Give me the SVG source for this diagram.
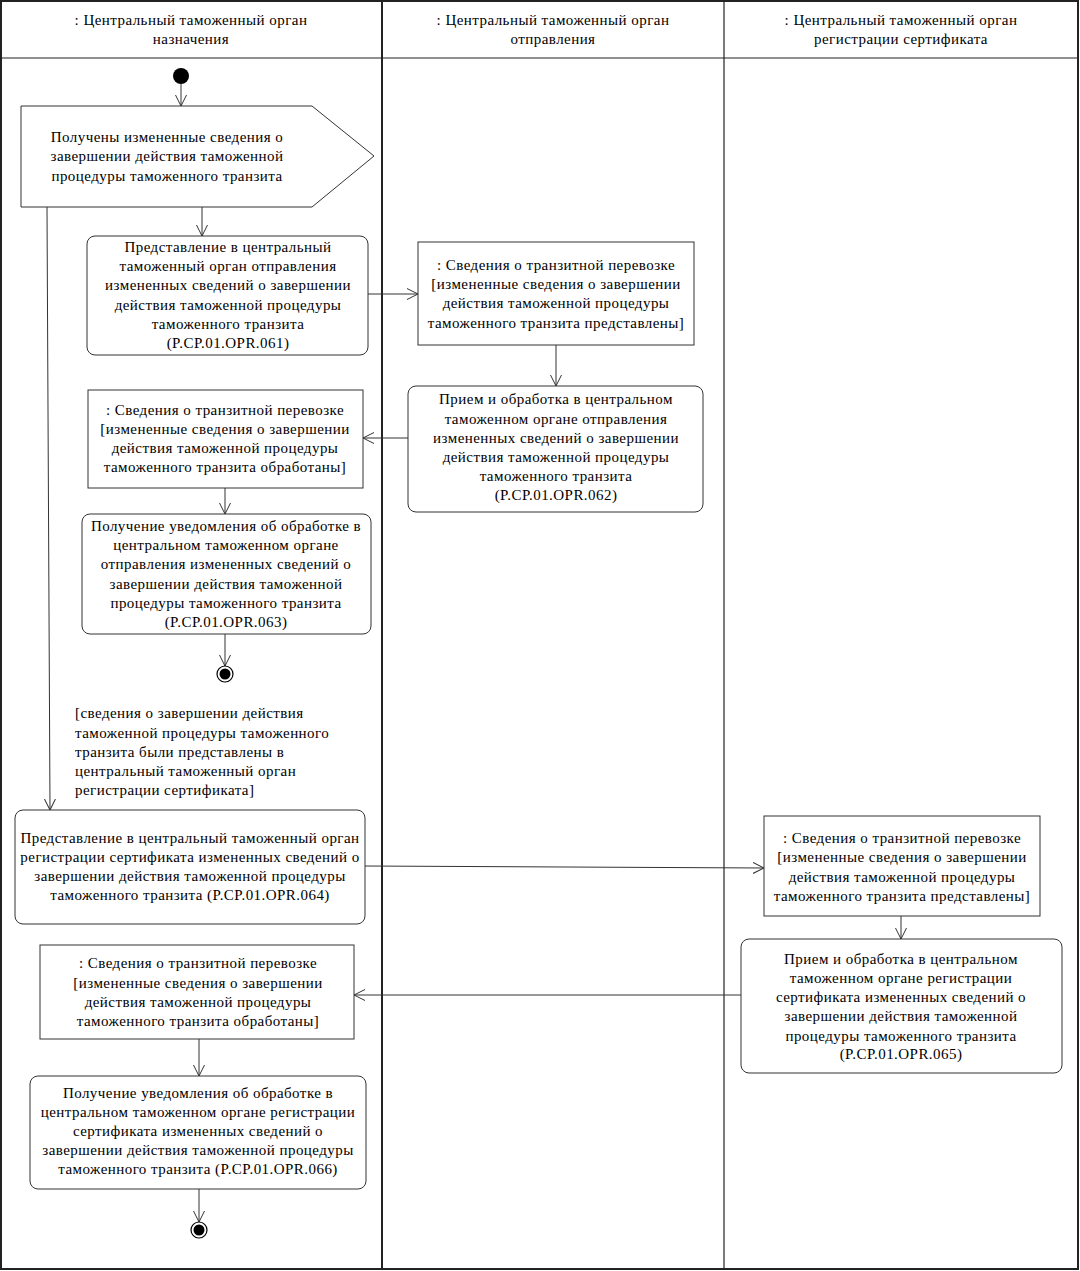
<svg xmlns="http://www.w3.org/2000/svg" width="1080" height="1271" viewBox="0 0 1080 1271">
<style>
text{font-family:"Liberation Serif","Times New Roman",serif;font-size:15px;letter-spacing:0.45px;fill:#000;text-anchor:middle}
.l{text-anchor:start}
.lane{fill:none;stroke:#222;stroke-width:2}
.hdr{stroke:#222;stroke-width:1.2}
.act{fill:#fff;stroke:#333;stroke-width:1}
.obj{fill:#fff;stroke:#333;stroke-width:1}
.c{fill:none;stroke:#333;stroke-width:1;marker-end:url(#ar)}
</style>
<defs>
<marker id="ar" viewBox="0 0 12 12" refX="11" refY="6" markerWidth="12" markerHeight="12" markerUnits="userSpaceOnUse" orient="auto">
<path d="M0,0.5 L11,6 L0,11.5" fill="none" stroke="#333" stroke-width="1"/>
</marker>
</defs>
<rect x="0" y="0" width="1080" height="1271" fill="#fff"/>
<g id="lanes">
<rect class="lane" x="1" y="1" width="1077" height="1268" stroke="#555"/>
<line class="hdr" x1="1" y1="58" x2="1078" y2="58"/>
<line class="lane" x1="382" y1="1" x2="382" y2="1269"/>
<line class="hdr" x1="724" y1="1" x2="724" y2="1269"/>
<text x="191" y="25">: Центральный таможенный орган</text>
<text x="191" y="44">назначения</text>
<text x="553" y="25">: Центральный таможенный орган</text>
<text x="553" y="44">отправления</text>
<text x="901" y="25">: Центральный таможенный орган</text>
<text x="901" y="44">регистрации сертификата</text>
</g>
<g id="connectors">
<line class="c" x1="181" y1="84" x2="181" y2="106"/>
<line class="c" x1="202" y1="207" x2="202" y2="236"/>
<line class="c" x1="47" y1="207" x2="50" y2="810"/>
<line class="c" x1="368" y1="294" x2="418" y2="294"/>
<line class="c" x1="556" y1="345" x2="556" y2="386"/>
<line class="c" x1="408" y1="438" x2="363" y2="438"/>
<line class="c" x1="225" y1="488" x2="225" y2="514"/>
<line class="c" x1="225" y1="634" x2="225" y2="666"/>
<line class="c" x1="365" y1="866" x2="764" y2="868"/>
<line class="c" x1="901" y1="916" x2="901" y2="939"/>
<line class="c" x1="741" y1="995" x2="354" y2="995"/>
<line class="c" x1="199" y1="1039" x2="199" y2="1076"/>
<line class="c" x1="199" y1="1189" x2="199" y2="1222"/>
</g>
<g id="start"><circle cx="181" cy="76" r="8" fill="#000"/></g>
<g id="signal">
<polygon class="obj" points="21,106 312,106 374,156 312,207 21,207"/>
<text x="167" y="142">Получены измененные сведения о</text>
<text x="167" y="161">завершении действия таможенной</text>
<text x="167" y="181">процедуры таможенного транзита</text>
</g>
<g id="a061">
<rect class="act" x="87" y="236" width="281" height="119" rx="8"/>
<text x="228" y="252">Представление в центральный</text>
<text x="228" y="271">таможенный орган отправления</text>
<text x="228" y="290">измененных сведений о завершении</text>
<text x="228" y="310">действия таможенной процедуры</text>
<text x="228" y="329">таможенного транзита</text>
<text x="228" y="348">(P.CP.01.OPR.061)</text>
</g>
<g id="o1">
<rect class="obj" x="418" y="242" width="276" height="103"/>
<text x="556" y="270">: Сведения о транзитной перевозке</text>
<text x="556" y="289">[измененные сведения о завершении</text>
<text x="556" y="308">действия таможенной процедуры</text>
<text x="556" y="328">таможенного транзита представлены]</text>
</g>
<g id="a062">
<rect class="act" x="408" y="386" width="295" height="126" rx="8"/>
<text x="556" y="404">Прием и обработка в центральном</text>
<text x="556" y="424">таможенном органе отправления</text>
<text x="556" y="443">измененных сведений о завершении</text>
<text x="556" y="462">действия таможенной процедуры</text>
<text x="556" y="481">таможенного транзита</text>
<text x="556" y="500">(P.CP.01.OPR.062)</text>
</g>
<g id="o2">
<rect class="obj" x="88" y="390" width="275" height="98"/>
<text x="225" y="415">: Сведения о транзитной перевозке</text>
<text x="225" y="434">[измененные сведения о завершении</text>
<text x="225" y="453">действия таможенной процедуры</text>
<text x="225" y="472">таможенного транзита обработаны]</text>
</g>
<g id="a063">
<rect class="act" x="82" y="514" width="289" height="120" rx="8"/>
<text x="226" y="531">Получение уведомления об обработке в</text>
<text x="226" y="550">центральном таможенном органе</text>
<text x="226" y="569">отправления измененных сведений о</text>
<text x="226" y="589">завершении действия таможенной</text>
<text x="226" y="608">процедуры таможенного транзита</text>
<text x="226" y="627">(P.CP.01.OPR.063)</text>
</g>
<g id="end1"><circle cx="225" cy="674" r="8" fill="#fff" stroke="#000" stroke-width="1.2"/><circle cx="225" cy="674" r="5.5" fill="#000"/></g>
<g id="guard">
<text class="l" x="75" y="718">[сведения о завершении действия</text>
<text class="l" x="75" y="738">таможенной процедуры таможенного</text>
<text class="l" x="75" y="757">транзита были представлены в</text>
<text class="l" x="75" y="776">центральный таможенный орган</text>
<text class="l" x="75" y="795">регистрации сертификата]</text>
</g>
<g id="a064">
<rect class="act" x="15" y="810" width="350" height="114" rx="8"/>
<text x="190" y="843">Представление в центральный таможенный орган</text>
<text x="190" y="862">регистрации сертификата измененных сведений о</text>
<text x="190" y="881">завершении действия таможенной процедуры</text>
<text x="190" y="900">таможенного транзита  (P.CP.01.OPR.064)</text>
</g>
<g id="o3">
<rect class="obj" x="764" y="816" width="276" height="100"/>
<text x="902" y="843">: Сведения о транзитной перевозке</text>
<text x="902" y="862">[измененные сведения о завершении</text>
<text x="902" y="882">действия таможенной процедуры</text>
<text x="902" y="901">таможенного транзита представлены]</text>
</g>
<g id="a065">
<rect class="act" x="741" y="939" width="321" height="134" rx="8"/>
<text x="901" y="964">Прием и обработка в центральном</text>
<text x="901" y="983">таможенном органе регистрации</text>
<text x="901" y="1002">сертификата измененных сведений о</text>
<text x="901" y="1021">завершении действия таможенной</text>
<text x="901" y="1041">процедуры таможенного транзита</text>
<text x="901" y="1059">(P.CP.01.OPR.065)</text>
</g>
<g id="o4">
<rect class="obj" x="40" y="945" width="314" height="94"/>
<text x="198" y="968">: Сведения о транзитной перевозке</text>
<text x="198" y="988">[измененные сведения о завершении</text>
<text x="198" y="1007">действия таможенной процедуры</text>
<text x="198" y="1026">таможенного транзита обработаны]</text>
</g>
<g id="a066">
<rect class="act" x="30" y="1076" width="336" height="113" rx="8"/>
<text x="198" y="1098">Получение уведомления об обработке в</text>
<text x="198" y="1117">центральном таможенном органе регистрации</text>
<text x="198" y="1136">сертификата измененных сведений о</text>
<text x="198" y="1155">завершении действия таможенной процедуры</text>
<text x="198" y="1174">таможенного транзита (P.CP.01.OPR.066)</text>
</g>
<g id="end2"><circle cx="199" cy="1230" r="8" fill="#fff" stroke="#000" stroke-width="1.2"/><circle cx="199" cy="1230" r="5.5" fill="#000"/></g>
</svg>
